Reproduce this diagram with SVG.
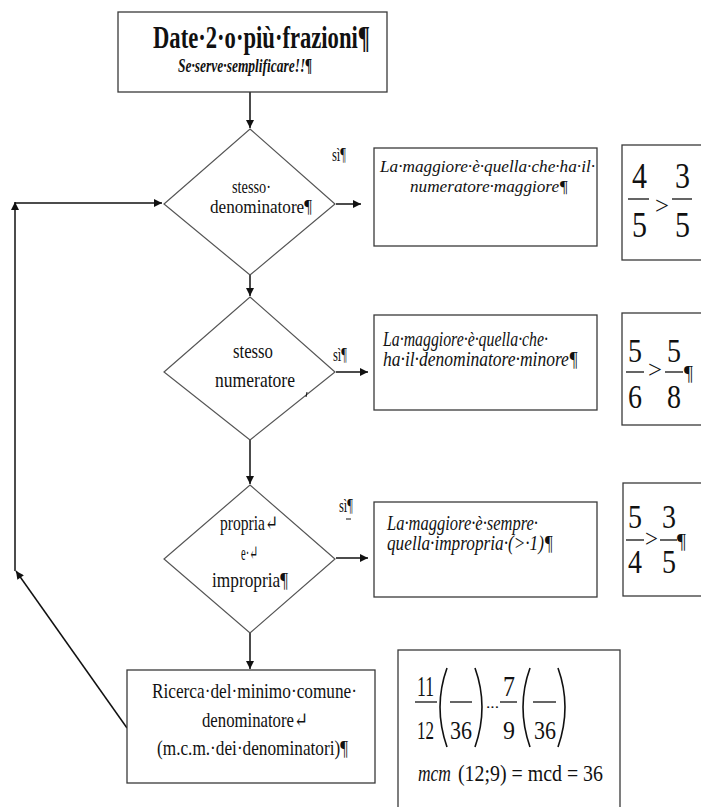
<svg xmlns="http://www.w3.org/2000/svg" width="701" height="807" viewBox="0 0 701 807">
<style>
.bx{fill:#fff;stroke:#3a3a3a;stroke-width:1.3}
.dm{fill:#fff;stroke:#555;stroke-width:1.2}
.cn{fill:none;stroke:#111;stroke-width:1.5}
.t{font-family:"Liberation Serif","DejaVu Serif",serif;fill:#111}
.it{font-style:italic}
.bar{stroke:#111;stroke-width:1.3}
.par{fill:none;stroke:#111;stroke-width:1.6}
</style>
<defs>
<marker id="ah" viewBox="0 0 10 10" refX="10" refY="5" markerWidth="9" markerHeight="8" markerUnits="userSpaceOnUse" orient="auto">
<path d="M0,0 L10,5 L0,10 z" fill="#111"/>
</marker>
</defs>
<rect width="701" height="807" fill="#fff"/>

<g id="connectors">
<line class="cn" x1="250" y1="92" x2="250" y2="128" marker-end="url(#ah)"/>
<line class="cn" x1="250" y1="275" x2="250" y2="296" marker-end="url(#ah)"/>
<line class="cn" x1="250" y1="440" x2="250" y2="484" marker-end="url(#ah)"/>
<line class="cn" x1="250" y1="633" x2="250" y2="669" marker-end="url(#ah)"/>
<line class="cn" x1="336" y1="204" x2="361" y2="204" marker-end="url(#ah)"/>
<line class="cn" x1="336" y1="372" x2="368" y2="372" marker-end="url(#ah)"/>
<line class="cn" x1="336" y1="558" x2="368" y2="558" marker-end="url(#ah)"/>
<line class="cn" x1="127" y1="728" x2="16" y2="571" marker-end="url(#ah)"/>
<line class="cn" x1="15" y1="571" x2="15" y2="202" marker-end="url(#ah)"/>
<line class="cn" x1="15" y1="203" x2="162" y2="203" marker-end="url(#ah)"/>
</g>

<g id="start">
<rect class="bx" x="118" y="12" width="269" height="80"/>
<text class="t" x="153" y="48" font-size="32" font-weight="bold" textLength="217" lengthAdjust="spacingAndGlyphs">Date·2·o·più·frazioni¶</text>
<text class="t it" x="178" y="72" font-size="19" font-weight="bold" textLength="134" lengthAdjust="spacingAndGlyphs">Se·serve·semplificare!!¶</text>
</g>

<g id="dec1">
<polygon class="dm" points="250,129 335,204 250,275 164,204"/>
<text class="t" x="232" y="193" font-size="19" textLength="39" lengthAdjust="spacingAndGlyphs">stesso·</text>
<text class="t" x="210" y="213" font-size="19" textLength="102" lengthAdjust="spacingAndGlyphs">denominatore¶</text>
<text class="t" x="332" y="161" font-size="19" textLength="14" lengthAdjust="spacingAndGlyphs">sì¶</text>
</g>

<g id="res1">
<rect class="bx" x="374" y="148" width="223" height="98"/>
<text class="t it" x="380" y="172" font-size="17" textLength="215" lengthAdjust="spacingAndGlyphs">La·maggiore·è·quella·che·ha·il·</text>
<text class="t it" x="410" y="192" font-size="17" textLength="158" lengthAdjust="spacingAndGlyphs">numeratore·maggiore¶</text>
</g>

<g id="ex1">
<rect class="bx" x="622" y="145" width="90" height="115"/>
<text class="t" x="632" y="188" font-size="36" textLength="15" lengthAdjust="spacingAndGlyphs">4</text>
<line class="bar" x1="628" y1="199" x2="649" y2="199"/>
<text class="t" x="632" y="237" font-size="36" textLength="15" lengthAdjust="spacingAndGlyphs">5</text>
<text class="t" x="655" y="214" font-size="26" textLength="14" lengthAdjust="spacingAndGlyphs">&gt;</text>
<text class="t" x="675" y="188" font-size="36" textLength="15" lengthAdjust="spacingAndGlyphs">3</text>
<line class="bar" x1="672" y1="199" x2="692" y2="199"/>
<text class="t" x="675" y="237" font-size="36" textLength="15" lengthAdjust="spacingAndGlyphs">5</text>
</g>

<g id="dec2">
<polygon class="dm" points="250,297 335,372 250,440 164,372"/>
<text class="t" x="233" y="358" font-size="21" textLength="40" lengthAdjust="spacingAndGlyphs">stesso</text>
<text class="t" x="215" y="387" font-size="21" textLength="80" lengthAdjust="spacingAndGlyphs">numeratore</text>
<line x1="307" y1="392" x2="306" y2="397" stroke="#111" stroke-width="1"/>
<text class="t" x="333" y="361" font-size="19" textLength="14" lengthAdjust="spacingAndGlyphs">sì¶</text>
</g>

<g id="res2">
<rect class="bx" x="374" y="315" width="223" height="95"/>
<text class="t it" x="383" y="346" font-size="20" textLength="165" lengthAdjust="spacingAndGlyphs">La·maggiore·è·quella·che·</text>
<text class="t it" x="383" y="366" font-size="20" textLength="195" lengthAdjust="spacingAndGlyphs">ha·il·denominatore·minore¶</text>
</g>

<g id="ex2">
<rect class="bx" x="622" y="313" width="90" height="112"/>
<text class="t" x="628" y="362" font-size="34" textLength="14" lengthAdjust="spacingAndGlyphs">5</text>
<line class="bar" x1="626" y1="372" x2="644" y2="372"/>
<text class="t" x="628" y="408" font-size="34" textLength="14" lengthAdjust="spacingAndGlyphs">6</text>
<text class="t" x="648" y="378" font-size="26" textLength="14" lengthAdjust="spacingAndGlyphs">&gt;</text>
<text class="t" x="667" y="362" font-size="34" textLength="14" lengthAdjust="spacingAndGlyphs">5</text>
<line class="bar" x1="665" y1="372" x2="683" y2="372"/>
<text class="t" x="667" y="408" font-size="34" textLength="14" lengthAdjust="spacingAndGlyphs">8</text>
<text class="t" x="684" y="380" font-size="22" textLength="9" lengthAdjust="spacingAndGlyphs">¶</text>
</g>

<g id="dec3">
<polygon class="dm" points="250,485 335,559 250,633 164,559"/>
<text class="t" x="220" y="530" font-size="21" textLength="58" lengthAdjust="spacingAndGlyphs">propria↵</text>
<text class="t" x="241" y="560" font-size="21" textLength="17" lengthAdjust="spacingAndGlyphs">e·↵</text>
<text class="t" x="212" y="587" font-size="21" textLength="76" lengthAdjust="spacingAndGlyphs">impropria¶</text>
<text class="t" x="339" y="512" font-size="19" textLength="14" lengthAdjust="spacingAndGlyphs">sì¶</text>
<line x1="346" y1="519" x2="351" y2="519" stroke="#111" stroke-width="1"/>
</g>

<g id="res3">
<rect class="bx" x="374" y="502" width="223" height="95"/>
<text class="t it" x="387" y="530" font-size="20" textLength="151" lengthAdjust="spacingAndGlyphs">La·maggiore·è·sempre·</text>
<text class="t it" x="387" y="550" font-size="20" textLength="166" lengthAdjust="spacingAndGlyphs">quella·impropria·(&gt;·1)¶</text>
</g>

<g id="ex3">
<rect class="bx" x="623" y="483" width="90" height="113"/>
<text class="t" x="628" y="528" font-size="34" textLength="14" lengthAdjust="spacingAndGlyphs">5</text>
<line class="bar" x1="626" y1="540" x2="644" y2="540"/>
<text class="t" x="628" y="573" font-size="34" textLength="14" lengthAdjust="spacingAndGlyphs">4</text>
<text class="t" x="645" y="547" font-size="26" textLength="13" lengthAdjust="spacingAndGlyphs">&gt;</text>
<text class="t" x="662" y="528" font-size="34" textLength="14" lengthAdjust="spacingAndGlyphs">3</text>
<line class="bar" x1="660" y1="540" x2="677" y2="540"/>
<text class="t" x="662" y="573" font-size="34" textLength="14" lengthAdjust="spacingAndGlyphs">5</text>
<text class="t" x="677" y="548" font-size="22" textLength="9" lengthAdjust="spacingAndGlyphs">¶</text>
</g>

<g id="lcm">
<rect class="bx" x="127" y="670" width="248" height="113"/>
<text class="t" x="152" y="698" font-size="21" textLength="205" lengthAdjust="spacingAndGlyphs">Ricerca·del·minimo·comune·</text>
<text class="t" x="202" y="727" font-size="21" textLength="106" lengthAdjust="spacingAndGlyphs">denominatore↵</text>
<text class="t" x="157" y="755" font-size="21" textLength="191" lengthAdjust="spacingAndGlyphs">(m.c.m.·dei·denominatori)¶</text>
</g>

<g id="lcm-example">
<rect class="bx" x="398" y="650" width="222" height="165"/>
<text class="t" x="417" y="696" font-size="30" textLength="17" lengthAdjust="spacingAndGlyphs">11</text>
<line class="bar" x1="415" y1="702" x2="437" y2="702"/>
<text class="t" x="417" y="739" font-size="26" textLength="17" lengthAdjust="spacingAndGlyphs">12</text>
<path class="par" d="M447,668 Q433,707 447,747"/>
<line class="bar" x1="450" y1="702" x2="472" y2="702"/>
<text class="t" x="450" y="739" font-size="26" textLength="22" lengthAdjust="spacingAndGlyphs">36</text>
<path class="par" d="M475,668 Q489,707 475,747"/>
<text class="t" x="486" y="708" font-size="14" textLength="13" lengthAdjust="spacingAndGlyphs">...</text>
<text class="t" x="503" y="696" font-size="30" textLength="12" lengthAdjust="spacingAndGlyphs">7</text>
<line class="bar" x1="500" y1="702" x2="517" y2="702"/>
<text class="t" x="503" y="739" font-size="26" textLength="12" lengthAdjust="spacingAndGlyphs">9</text>
<path class="par" d="M530,668 Q516,707 530,747"/>
<line class="bar" x1="533" y1="702" x2="556" y2="702"/>
<text class="t" x="534" y="739" font-size="26" textLength="22" lengthAdjust="spacingAndGlyphs">36</text>
<path class="par" d="M558,668 Q572,707 558,747"/>
<text class="t it" x="418" y="781" font-size="23" textLength="33" lengthAdjust="spacingAndGlyphs">mcm</text>
<text class="t" x="458" y="781" font-size="23" textLength="145" lengthAdjust="spacingAndGlyphs">(12;9) = mcd = 36</text>
</g>
</svg>
